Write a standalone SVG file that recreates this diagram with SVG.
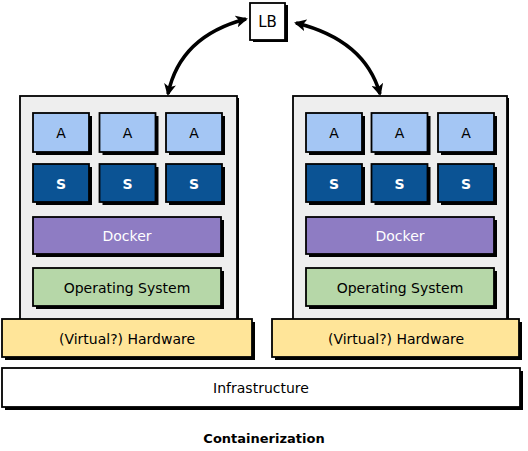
<svg xmlns="http://www.w3.org/2000/svg" width="528" height="451" viewBox="0 0 528 451">
<defs>
<style>
.t{font-family:"DejaVu Sans","Liberation Sans",sans-serif;font-size:14px;text-anchor:middle;dominant-baseline:central}
.sm{font-size:14px}
.sw{font-size:14px;fill:#fff;font-weight:bold}
.sh{fill:#000}
.bx{stroke:#000;stroke-width:1.8}
.cont{fill:#eeeeee}
.a{fill:#a4c6f4}
.s{fill:#0b5394}
.dk{fill:#8e7cc3}
.os{fill:#b6d7a8}
.hw{fill:#ffe599}
.wh{fill:#ffffff}
.conn{fill:none;stroke:#000;stroke-width:3.5}
</style>
<marker id="ah" viewBox="0 0 12 12" refX="10" refY="6" markerWidth="12" markerHeight="12" markerUnits="userSpaceOnUse" orient="auto-start-reverse">
<path d="M0,0 L12,6 L0,12 L3,6 Z" fill="#000"/>
</marker>
</defs>
<rect width="528" height="451" fill="#fff"/>

<g id="connectors">
<path class="conn" d="M168,94 Q180,36 246,19" marker-start="url(#ah)" marker-end="url(#ah)"/>
<path class="conn" d="M380,94 Q365,40 296,23" marker-start="url(#ah)" marker-end="url(#ah)"/>
</g>

<g id="lb">
<rect class="sh" x="253" y="5" width="35" height="37"/>
<rect class="bx wh" x="250" y="3" width="35" height="37"/>
<text class="t" x="267.5" y="21.5" style="font-size:15px">LB</text>
</g>

<g id="stack-left">
<rect class="sh" x="22" y="98" width="217" height="224"/>
<rect class="bx cont" x="20" y="96" width="217" height="224"/>
<g id="a1"><rect class="sh" x="36" y="116" width="56" height="39"/><rect class="bx a" x="33" y="113" width="56" height="39"/><text class="t sm" x="61" y="132.5">A</text></g>
<g id="a2"><rect class="sh" x="102.5" y="116" width="56" height="39"/><rect class="bx a" x="99.5" y="113" width="56" height="39"/><text class="t sm" x="127.5" y="132.5">A</text></g>
<g id="a3"><rect class="sh" x="169" y="116" width="56" height="39"/><rect class="bx a" x="166" y="113" width="56" height="39"/><text class="t sm" x="194" y="132.5">A</text></g>
<g id="s1"><rect class="sh" x="36" y="167" width="56" height="38"/><rect class="bx s" x="33" y="164" width="56" height="38"/><text class="t sw" x="61" y="183.5">S</text></g>
<g id="s2"><rect class="sh" x="102.5" y="167" width="56" height="38"/><rect class="bx s" x="99.5" y="164" width="56" height="38"/><text class="t sw" x="127.5" y="183.5">S</text></g>
<g id="s3"><rect class="sh" x="169" y="167" width="56" height="38"/><rect class="bx s" x="166" y="164" width="56" height="38"/><text class="t sw" x="194" y="183.5">S</text></g>
<g id="docker1"><rect class="sh" x="36" y="220" width="188" height="37"/><rect class="bx dk" x="33" y="217" width="188" height="37"/><text class="t" x="127" y="236" style="fill:#fff">Docker</text></g>
<g id="os1"><rect class="sh" x="36" y="271" width="188" height="38"/><rect class="bx os" x="33" y="268" width="188" height="38"/><text class="t" x="127" y="288">Operating System</text></g>
</g>

<g id="hw-left">
<rect class="sh" x="5" y="322" width="250" height="38"/>
<rect class="bx hw" x="2" y="319" width="250" height="38"/>
<text class="t" x="127" y="339">(Virtual?) Hardware</text>
</g>

<g id="stack-right">
<rect class="sh" x="295" y="98" width="214" height="224"/>
<rect class="bx cont" x="293" y="96" width="214" height="224"/>
<g id="a4"><rect class="sh" x="309" y="116" width="56" height="39"/><rect class="bx a" x="306" y="113" width="56" height="39"/><text class="t sm" x="334" y="132.5">A</text></g>
<g id="a5"><rect class="sh" x="374.5" y="116" width="56" height="39"/><rect class="bx a" x="371.5" y="113" width="56" height="39"/><text class="t sm" x="399.5" y="132.5">A</text></g>
<g id="a6"><rect class="sh" x="441" y="116" width="56" height="39"/><rect class="bx a" x="438" y="113" width="56" height="39"/><text class="t sm" x="466" y="132.5">A</text></g>
<g id="s4"><rect class="sh" x="309" y="167" width="56" height="38"/><rect class="bx s" x="306" y="164" width="56" height="38"/><text class="t sw" x="334" y="183.5">S</text></g>
<g id="s5"><rect class="sh" x="374.5" y="167" width="56" height="38"/><rect class="bx s" x="371.5" y="164" width="56" height="38"/><text class="t sw" x="399.5" y="183.5">S</text></g>
<g id="s6"><rect class="sh" x="441" y="167" width="56" height="38"/><rect class="bx s" x="438" y="164" width="56" height="38"/><text class="t sw" x="466" y="183.5">S</text></g>
<g id="docker2"><rect class="sh" x="309" y="220" width="188" height="37"/><rect class="bx dk" x="306" y="217" width="188" height="37"/><text class="t" x="400" y="236" style="fill:#fff">Docker</text></g>
<g id="os2"><rect class="sh" x="309" y="271" width="188" height="38"/><rect class="bx os" x="306" y="268" width="188" height="38"/><text class="t" x="400" y="288">Operating System</text></g>
</g>

<g id="hw-right">
<rect class="sh" x="275" y="322" width="247" height="38"/>
<rect class="bx hw" x="272" y="319" width="247" height="38"/>
<text class="t" x="396" y="339">(Virtual?) Hardware</text>
</g>

<g id="infra">
<rect class="sh" x="5" y="371" width="518" height="39"/>
<rect class="bx wh" x="2" y="368" width="518" height="39"/>
<text class="t" x="261" y="388">Infrastructure</text>
</g>

<text x="264" y="438" style="font-family:'DejaVu Sans','Liberation Sans',sans-serif;font-size:13px;font-weight:bold;text-anchor:middle;dominant-baseline:central">Containerization</text>
</svg>
